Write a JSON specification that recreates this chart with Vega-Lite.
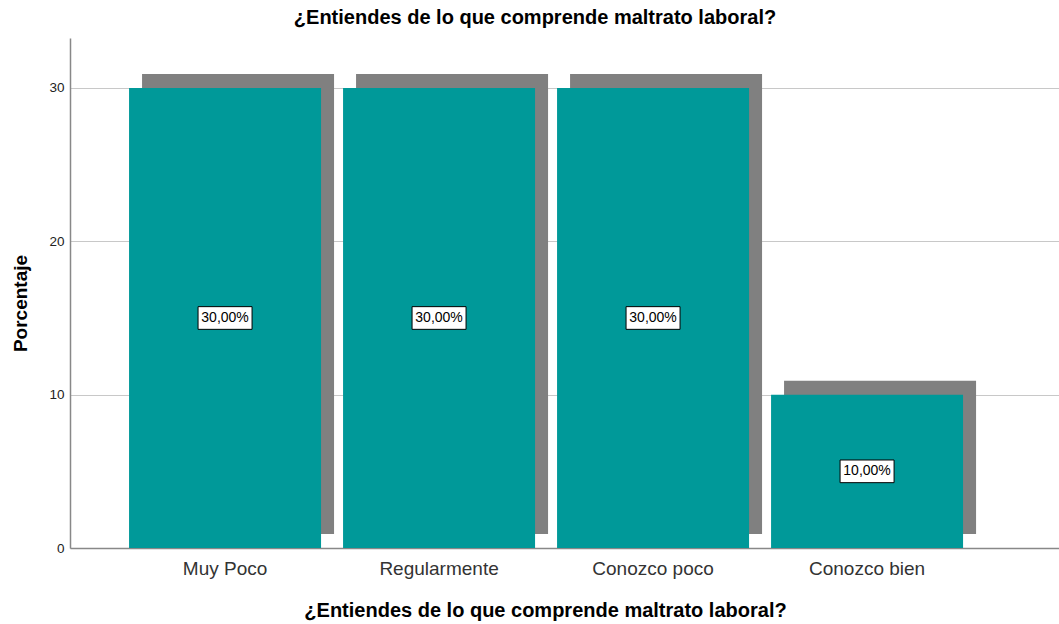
{
  "$schema": "https://vega.github.io/schema/vega-lite/v6.json",
  "width": 989,
  "height": 510,
  "autosize": "none",
  "padding": {"left": 70, "top": 38, "right": 0, "bottom": 76},
  "background": "white",
  "config": {
    "font": "Liberation Sans",
    "view": {"stroke": null}
  },
  "title": {
    "text": "¿Entiendes de lo que comprende maltrato laboral?",
    "font": "Liberation Sans",
    "fontSize": 20,
    "fontWeight": "bold",
    "color": "#000000",
    "anchor": "middle",
    "frame": "bounds",
    "offset": 10
  },
  "data": {
    "values": [
      {"cat": "Muy Poco", "pct": 30, "lbl": "30,00%"},
      {"cat": "Regularmente", "pct": 30, "lbl": "30,00%"},
      {"cat": "Conozco poco", "pct": 30, "lbl": "30,00%"},
      {"cat": "Conozco bien", "pct": 10, "lbl": "10,00%"}
    ]
  },
  "encoding": {
    "x": {
      "field": "cat",
      "type": "nominal",
      "sort": null,
      "scale": {"paddingInner": 0.1028, "paddingOuter": 0.3621, "align": 0.381},
      "axis": {
        "title": "¿Entiendes de lo que comprende maltrato laboral?",
        "titleFont": "Liberation Sans",
        "titleFontSize": 20,
        "titleFontWeight": "bold",
        "titleColor": "#000000",
        "titleX": 475,
        "titleY": 68,
        "titleBaseline": "alphabetic",
        "labelAngle": 0,
        "labelFontSize": 19,
        "labelColor": "#333333",
        "labelPadding": 11,
        "ticks": false,
        "domainColor": "#888888",
        "domainWidth": 1.5,
        "grid": false
      }
    }
  },
  "layer": [
    {
      "mark": {"type": "bar", "color": "#808080", "xOffset": 13, "x2Offset": 13, "yOffset": -14, "y2Offset": -13},
      "encoding": {
        "y": {"field": "pct", "type": "quantitative", "scale": {"domain": [0, 33.26], "nice": false, "zero": true}, "axis": null}
      }
    },
    {
      "mark": {"type": "bar", "color": "#009999"},
      "encoding": {
        "y": {
          "field": "pct",
          "type": "quantitative",
          "scale": {"domain": [0, 33.26], "nice": false, "zero": true},
          "axis": {
            "title": "Porcentaje",
            "titleFont": "Liberation Sans",
            "titleFontSize": 19,
            "titleFontWeight": "bold",
            "titleColor": "#000000",
            "titleX": -50,
            "titleY": 265,
            "titleBaseline": "middle",
            "values": [0, 10, 20, 30],
            "labelFontSize": 13.5,
            "labelColor": "#222222",
            "labelPadding": 6,
            "ticks": false,
            "domainColor": "#888888",
            "domainWidth": 1.5,
            "grid": true,
            "gridColor": "#c8c8c8",
            "gridWidth": 1
          }
        }
      }
    },
    {
      "mark": {"type": "point", "shape": "M-1,-0.42L1,-0.42L1,0.42L-1,0.42Z", "size": 2916, "filled": true, "fill": "white", "stroke": "black", "strokeWidth": 1, "opacity": 1},
      "encoding": {
        "y": {"field": "pct", "type": "quantitative", "scale": {"domain": [0, 66.52], "nice": false, "zero": true}, "axis": null}
      }
    },
    {
      "mark": {"type": "text", "fontSize": 14, "color": "#000000", "align": "center", "baseline": "middle"},
      "encoding": {
        "y": {"field": "pct", "type": "quantitative", "scale": {"domain": [0, 66.52], "nice": false, "zero": true}, "axis": null},
        "text": {"field": "lbl"}
      }
    }
  ],
  "resolve": {"scale": {"y": "independent"}}
}
